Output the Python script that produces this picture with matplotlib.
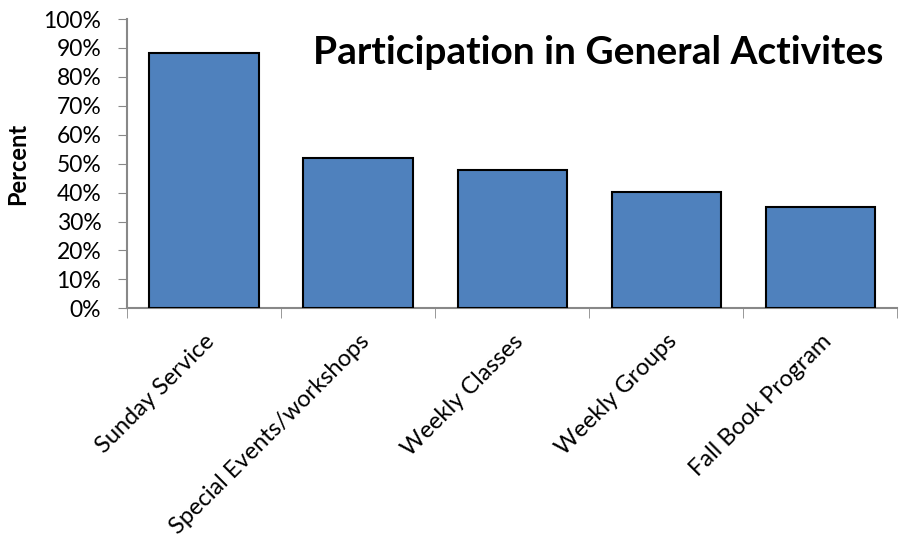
import numpy as np
import matplotlib.pyplot as plt
from matplotlib.ticker import PercentFormatter

categories = ["Sunday Service", "Special Events/workshops", "Weekly Classes",
              "Weekly Groups", "Fall Book Program"]
percent = [88.4, 52.0, 47.8, 40.2, 35.0]

plt.rcParams['font.family'] = ['Lato', 'DejaVu Sans']

fig = plt.figure(figsize=(8.99, 5.48), dpi=100)
ax = fig.add_axes([0.1413, 0.4374, 0.857, 0.5279])

x = np.arange(len(categories))
ax.bar(x, percent, width=0.71, color='#4f81bd', edgecolor='black', linewidth=1.5, zorder=3)

ax.set_ylim(0, 100)
ax.set_xlim(-0.5, len(categories) - 0.5)
ax.set_yticks(np.arange(0, 101, 10))
ax.yaxis.set_major_formatter(PercentFormatter(decimals=0))

ax.set_xticks(x)
ax.set_xticklabels(categories, rotation=45, ha='right', rotation_mode='anchor')
ax.set_xticks(np.arange(-0.5, len(categories)), minor=True)
ax.tick_params(axis='x', which='major', length=0, labelsize=17, pad=16)
ax.tick_params(axis='x', which='minor', length=7, color='#888888', direction='out')
ax.tick_params(axis='y', length=6.5, color='#888888', labelsize=16.5, direction='out', pad=12)

for s in ['top', 'right']:
    ax.spines[s].set_visible(False)
for s in ['left', 'bottom']:
    ax.spines[s].set_color('#888888')
    ax.spines[s].set_linewidth(1.5)

ax.set_ylabel('Percent', fontsize=17, fontweight='bold')
ax.yaxis.set_label_coords(-0.127, 0.5)
ax.text(0.612, 0.885, 'Participation in General Activites', transform=ax.transAxes,
        ha='center', va='center', fontsize=28, fontweight='bold')

fig.savefig('out.png', dpi=100)
